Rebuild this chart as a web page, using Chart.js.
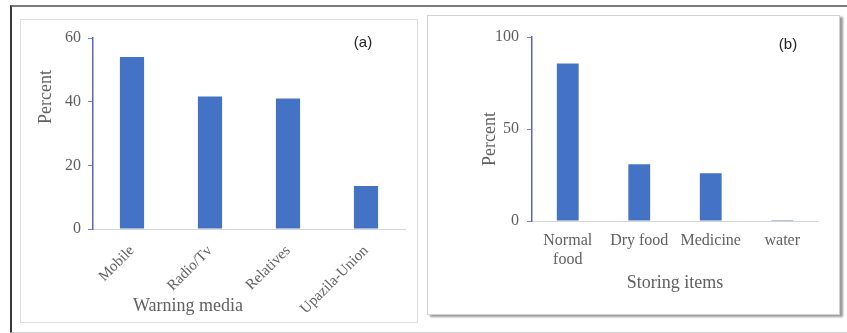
<!DOCTYPE html>
<html>
<head>
<meta charset="utf-8">
<script src="https://cdn.jsdelivr.net/npm/chart.js@4/dist/chart.umd.min.js"></script>
<style>
  html, body { margin: 0; padding: 0; background: #fff; }
  body { width: 847px; height: 333px; position: relative; overflow: hidden; }
  #frame { position: absolute; left: 10px; top: 5px; width: 845px; height: 325px;
           border-top: 2px solid #7a7a7a; border-left: 2px solid #3a3a3a; border-bottom: 1px solid #d0d0d0; }
  #panelA { position: absolute; left: 20px; top: 19px; width: 396px; height: 302px; border: 1px solid #dedede; }
  #panelB { position: absolute; left: 427px; top: 15px; width: 411px; height: 298px; border: 1px solid #d2d2d2;
            box-shadow: 3px 2px 2px #9a9a9a; background: #fff; }
  canvas { position: absolute; left: 0; top: 0; }
</style>
</head>
<body>
<div id="frame"></div>
<div id="panelA"><canvas id="chartA" width="396" height="302"></canvas></div>
<div id="panelB"><canvas id="chartB" width="411" height="298"></canvas></div>
<script>
// ---- data ----
const categoriesA = ['Mobile', 'Radio/Tv', 'Relatives', 'Upazila-Union'];
const valuesA = [54, 41.6, 41, 13.5];
const yTicksA = [0, 20, 40, 60];

const categoriesB = [['Normal', 'food'], 'Dry food', 'Medicine', 'water'];
const valuesB = [85.6, 30.8, 25.9, 0.5];
const yTicksB = [0, 50, 100];

const xTitleA = 'Warning media';
const xTitleB = 'Storing items';
const yTitle = 'Percent';
const panelLabelA = '(a)';
const panelLabelB = '(b)';

// ---- styles ----
const BAR = '#4472C4';
const TXT = '#5f5f5f';
const SERIF = "'Liberation Serif', 'Times New Roman', serif";

const titlePlugin = {
  id: 'freeTitles',
  afterDraw(chart, args, opts) {
    const ctx = chart.ctx;
    ctx.save();
    (opts.items || []).forEach(it => {
      ctx.save();
      ctx.font = it.font;
      ctx.fillStyle = it.color;
      ctx.textAlign = 'center';
      ctx.textBaseline = 'middle';
      ctx.translate(it.x, it.y);
      if (it.rotate) ctx.rotate(it.rotate);
      ctx.fillText(it.text, 0, 0);
      ctx.restore();
    });
    ctx.restore();
  }
};

function makeChart(id, labels, values, ticks, opt) {
  const max = ticks[ticks.length - 1];
  const step = ticks[1] - ticks[0];
  return new Chart(document.getElementById(id), {
    type: 'bar',
    data: {
      labels: labels,
      datasets: [{ data: values, backgroundColor: BAR, borderWidth: 0,
                   categoryPercentage: 1, barPercentage: opt.barPct }]
    },
    options: {
      responsive: false,
      animation: false,
      layout: { padding: opt.padding },
      plugins: {
        legend: { display: false },
        tooltip: { enabled: false },
        freeTitles: { items: opt.titles }
      },
      scales: {
        x: {
          grid: { display: false, drawTicks: false },
          border: { display: true, color: '#d6d6d6', width: 1 },
          ticks: {
            color: TXT, font: { family: SERIF, size: opt.xFont }, padding: opt.xPad,
            minRotation: opt.rot, maxRotation: opt.rot, autoSkip: false
          },
          afterFit: s => { s.height = opt.xHeight; }
        },
        y: {
          min: 0, max: max,
          afterBuildTicks: s => { s.ticks = ticks.map(v => ({ value: v })); },
          ticks: { color: TXT, font: { family: SERIF, size: 16 }, padding: opt.yPad, stepSize: step },
          grid: { drawOnChartArea: false, drawTicks: true, tickLength: 5, color: '#6f7fc8' },
          border: { display: true, color: '#5566c4', width: 1.5 },
          afterFit: s => { s.width = opt.yWidth; }
        }
      }
    },
    plugins: [titlePlugin]
  });
}

makeChart('chartA', categoriesA, valuesA, yTicksA, {
  barPct: 0.31, rot: 45, xPad: 13, xFont: 15, xHeight: 93, yWidth: 72, yPad: 7,
  padding: { top: 18, right: 12, left: 0, bottom: 0 },
  titles: [
    { text: xTitleA, x: 167, y: 286, font: '18px ' + SERIF, color: TXT },
    { text: yTitle, x: 25, y: 77, rotate: -Math.PI / 2, font: '18px ' + SERIF, color: TXT },
    { text: panelLabelA, x: 342, y: 23, font: '15px "Liberation Sans", Arial, sans-serif', color: '#222' }
  ]
});

makeChart('chartB', categoriesB, valuesB, yTicksB, {
  barPct: 0.305, rot: 0, xPad: 10, xFont: 16, xHeight: 93, yWidth: 104, yPad: 8,
  padding: { top: 21, right: 21, left: 0, bottom: 0 },
  titles: [
    { text: xTitleB, x: 247, y: 267, font: '18px ' + SERIF, color: TXT },
    { text: yTitle, x: 62, y: 123, rotate: -Math.PI / 2, font: '18px ' + SERIF, color: TXT },
    { text: panelLabelB, x: 360, y: 29, font: '15px "Liberation Sans", Arial, sans-serif', color: '#222' }
  ]
});
</script>
</body>
</html>
